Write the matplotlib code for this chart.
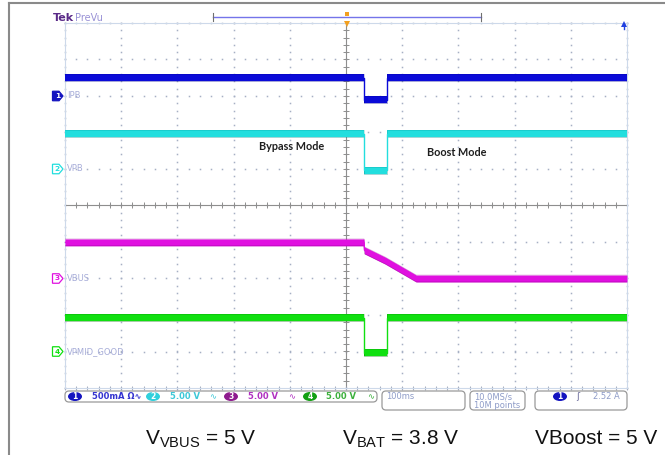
import numpy as np
import matplotlib
matplotlib.use("Agg")
import matplotlib.pyplot as plt
from matplotlib.patches import FancyBboxPatch, Polygon, Ellipse
from matplotlib import transforms

plt.rcParams['font.family'] = ['DejaVu Sans']
plt.rcParams['mathtext.fontset'] = 'custom'
plt.rcParams['mathtext.rm'] = 'Liberation Sans'

# ---------------- data (time in ms, values in channel units) ----------------
ms_per_div = 100.0
t_ipb = [-500, 32, 32, 73, 73, 500]
ipb_a = [0.25, 0.25, -0.05, -0.05, 0.25, 0.25]
t_vpb = [-500, 32, 32, 73, 73, 500]
vpb_v = [4.85, 4.85, -0.2, -0.2, 4.85, 4.85]
t_vbus = [-500, 32, 33, 70, 125, 500]
vbus_v = [4.95, 4.95, 3.85, 2.45, 0.0, 0.0]
t_vpmid = [-500, 32, 32, 73, 73, 500]
vpmid_v = [4.65, 4.65, -0.15, -0.15, 4.65, 4.65]

channel_names = ["IPB", "VPB", "VBUS", "VPMID_GOOD"]
channel_scale = [0.5, 5.0, 5.0, 5.0]       # units / div
channel_offset = [3, 1, -2, -4]            # ground position in div
channel_color = ["#0a0ad8", "#22dede", "#e010e0", "#10e010"]
channel_dark = ["#000090", "#008c8c", "#8c008c", "#007000"]
scale_labels = ["500mA Ω∿", "5.00 V", "5.00 V", "5.00 V"]
text_colors = ["#3434d0", "#3cc8d8", "#b030c0", "#3cb03c"]
badge_colors = ["#1414c0", "#30d0dc", "#8e1b8e", "#12a012"]
trig_level = "2.52 A"
timebase = "100ms"
sample_rate = "10.0MS/s"
record_len = "10M points"
captions = [r"V$_{\mathrm{VBUS}}$ = 5 V", r"V$_{\mathrm{BAT}}$ = 3.8 V", "VBoost = 5 V"]

series = [(t_ipb, ipb_a), (t_vpb, vpb_v), (t_vbus, vbus_v), (t_vpmid, vpmid_v)]

W, H = 665, 455
fig = plt.figure(figsize=(W / 100, H / 100), dpi=100)
fig.patch.set_facecolor("white")

# graticule axes in divisions
ax = fig.add_axes([65 / W, 1 - 388 / H, 562 / W, 365 / H])
ax.set_xlim(-5, 5)
ax.set_ylim(-5, 5)
ax.set_xticks([])
ax.set_yticks([])
ax.patch.set_alpha(0)
for s in ax.spines.values():
    s.set_color("#cdd9ea")
    s.set_linewidth(0.8)

grid_c = "#a6b0c4"
minor = np.arange(-5, 5.001, 0.2)
for k in range(-5, 6):
    ax.plot(np.full_like(minor, k), minor, ls="none", marker="s", ms=1.1,
            color=grid_c, mew=0, zorder=1, clip_on=False)
    ax.plot(minor, np.full_like(minor, k), ls="none", marker="s", ms=1.1,
            color=grid_c, mew=0, zorder=1, clip_on=False)
# center cross with ticks
ax.axhline(0, color="#8e8e8e", lw=0.8, zorder=1)
ax.axvline(0, color="#8e8e8e", lw=0.8, zorder=1)
ax.plot(minor, np.zeros_like(minor), ls="none", marker="|", ms=4, mew=0.7,
        color="#8e8e8e", zorder=1)
ax.plot(np.zeros_like(minor), minor, ls="none", marker="_", ms=4, mew=0.7,
        color="#8e8e8e", zorder=1)
# edge ticks
ax.plot(minor, np.full_like(minor, -5), ls="none", marker="|", ms=3, mew=0.6,
        color="#9aa4b8", zorder=1, clip_on=False)

half = 0.095
for i, (t, v) in enumerate(series):
    x = np.asarray(t, float) / ms_per_div
    y = channel_offset[i] + np.asarray(v, float) / channel_scale[i]
    ax.fill_between(x, y - half, y + half, color=channel_color[i], lw=0, zorder=3)
    ax.plot(x, y - half, color=channel_dark[i], lw=0.5, alpha=0.5, zorder=3)
    ax.plot(x, y + half, color=channel_dark[i], lw=0.5, alpha=0.3, zorder=3)
    ax.plot(x, y, color=channel_color[i], lw=1.0, zorder=3)

# overlay in pixel coordinates
ov = fig.add_axes([0, 0, 1, 1], zorder=5)
ov.set_xlim(0, W)
ov.set_ylim(H, 0)
ov.axis("off")
ov.patch.set_alpha(0)

# outer border
ov.plot([9, W], [3, 3], color="#8a8a8a", lw=1.5)
ov.plot([9, 9], [3, H], color="#8a8a8a", lw=1.5)

# Tek PreVu
ov.text(53, 21, "Tek", fontsize=8, fontweight="bold", color="#5a2a88", va="baseline")
ov.text(74.5, 21, "PreVu", fontsize=7, color="#9a92d6", va="baseline")
# record bar
ov.plot([213, 481], [17, 17], color="#7474ea", lw=1.0)
ov.plot([213, 213], [13, 21], color="#707070", lw=0.8)
ov.plot([481, 481], [13, 21], color="#707070", lw=0.8)
ov.plot([347], [14], marker="s", ms=2.5, color="#f2a020", mew=0)
ov.plot([347], [24], marker="v", ms=4.5, color="#f2a020", mew=0)
# trigger level arrow
ov.plot([624], [24], marker="^", ms=4.5, color="#2040e0", mew=0)
ov.plot([624, 624], [24, 29], color="#2040e0", lw=1)

# channel ground markers + labels
blend = transforms.blended_transform_factory(ov.transData, ax.transData)
hh = 0.13
for i in range(4):
    yoff = channel_offset[i]
    filled = (i == 0)
    ov.add_patch(Polygon([(52.5, yoff + hh), (59, yoff + hh), (63, yoff),
                          (59, yoff - hh), (52.5, yoff - hh)], closed=True,
                         transform=blend,
                         fc=badge_colors[0] if filled else "white",
                         ec=badge_colors[0] if filled else channel_color[i], lw=0.9))
    ov.text(57.3, yoff, str(i + 1), transform=blend, fontsize=5.3,
            fontweight="bold", ha="center", va="center",
            color="white" if filled else channel_color[i])
    ov.text(67, yoff, channel_names[i], transform=blend, fontsize=6,
            color="#a6acd8", ha="left", va="center")

# mode annotations
ov.text(259, 146, "Bypass Mode", fontsize=7.8, fontweight="bold", family="Lato",
        color="#1e1e1e", ha="left", va="center")
ov.text(427, 152, "Boost Mode", fontsize=7.8, fontweight="bold", family="Lato",
        color="#1e1e1e", ha="left", va="center")

# status bar
def rbox(x0, y0, w, h):
    ov.add_patch(FancyBboxPatch((x0, y0), w, h, boxstyle="round,pad=0,rounding_size=4",
                                fc="white", ec="#9a9a9a", lw=0.9))

rbox(65, 391, 312, 11)
rbox(382, 391, 83, 19)
rbox(470, 391, 55, 19)
rbox(535, 391, 92, 19)

badge_x = [75, 153, 231, 310]
text_x = [92, 170, 248, 326]
wave_x = [None, 213, 292, 371]
for i in range(4):
    ov.add_patch(Ellipse((badge_x[i], 396.5), 14, 9, fc=badge_colors[i], ec="none"))
    ov.text(badge_x[i], 396.8, str(i + 1), fontsize=5.5, fontweight="bold",
            color="white", ha="center", va="center")
    ov.text(text_x[i], 396.8, scale_labels[i], fontsize=6, fontweight="bold",
            color=text_colors[i], ha="left", va="center")
    if wave_x[i] is not None:
        ov.text(wave_x[i], 396.8, "∿", fontsize=6, color=text_colors[i],
                ha="center", va="center")

light = "#8e9cc8"
ov.text(386, 396.5, timebase, fontsize=6, color=light, ha="left", va="center")
ov.text(474, 396.5, sample_rate, fontsize=6, color=light, ha="left", va="center")
ov.text(474, 405, record_len, fontsize=6, color=light, ha="left", va="center")
ov.add_patch(Ellipse((560, 396.5), 14, 9, fc=badge_colors[0], ec="none"))
ov.text(560, 396.8, "1", fontsize=5.5, fontweight="bold", color="white",
        ha="center", va="center")
ov.text(578, 396.5, "ʃ", fontsize=6.5, color="#6a6a9a", ha="center", va="center")
ov.text(593, 396.5, trig_level, fontsize=6, color=light, ha="left", va="center")

# captions
cap_x = [145, 342, 535]
for cx, ctext in zip(cap_x, captions):
    ov.text(cx, 444, ctext, fontsize=15, family="Liberation Sans",
            color="#111111", ha="left", va="baseline")

fig.savefig("out.png", dpi=100, facecolor="white")
